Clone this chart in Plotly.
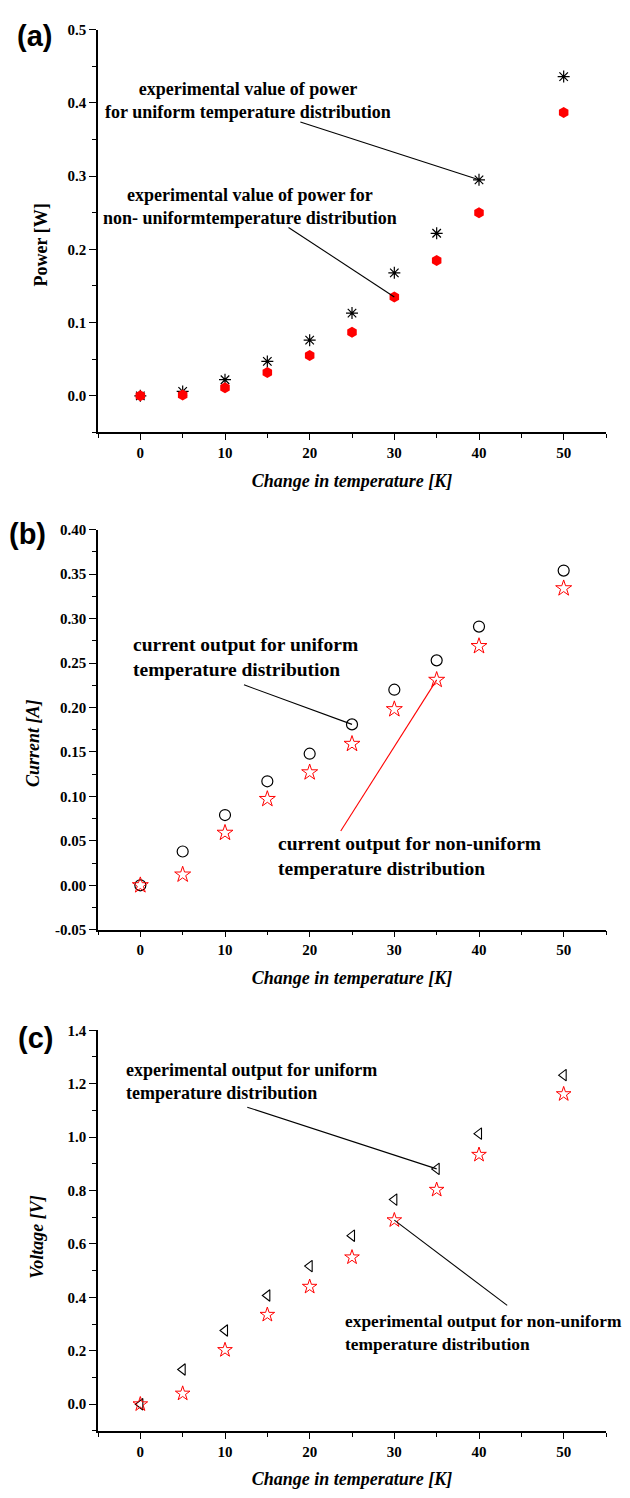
import plotly.graph_objects as go

# Temperature difference across the module [K]
temp = [0, 5, 10, 15, 20, 25, 30, 35, 40, 50]

# (a) Power [W]
power_uniform = [0.0, 0.006, 0.022, 0.047, 0.076, 0.113, 0.168, 0.222, 0.295, 0.436]
power_nonuniform = [0.0, 0.001, 0.011, 0.032, 0.055, 0.087, 0.135, 0.185, 0.250, 0.387]

# (b) Current [A]
current_uniform = [0.0, 0.038, 0.079, 0.117, 0.148, 0.181, 0.220, 0.253, 0.291, 0.354]
current_nonuniform = [0.0, 0.012, 0.059, 0.097, 0.127, 0.159, 0.198, 0.231, 0.269, 0.334]

# (c) Voltage [V]
voltage_uniform = [0.0, 0.130, 0.276, 0.407, 0.517, 0.631, 0.766, 0.881, 1.013, 1.232]
voltage_nonuniform = [0.0, 0.040, 0.203, 0.335, 0.440, 0.550, 0.689, 0.803, 0.934, 1.161]

# Tick labels
x_ticks = [0, 10, 20, 30, 40, 50]
x_ticktext = ["0", "10", "20", "30", "40", "50"]
power_ticks = [0.0, 0.1, 0.2, 0.3, 0.4, 0.5]
power_ticktext = ["0.0", "0.1", "0.2", "0.3", "0.4", "0.5"]
current_ticks = [-0.05, 0.0, 0.05, 0.10, 0.15, 0.20, 0.25, 0.30, 0.35, 0.40]
current_ticktext = ["-0.05", "0.00", "0.05", "0.10", "0.15", "0.20", "0.25", "0.30", "0.35", "0.40"]
voltage_ticks = [0.0, 0.2, 0.4, 0.6, 0.8, 1.0, 1.2, 1.4]
voltage_ticktext = ["0.0", "0.2", "0.4", "0.6", "0.8", "1.0", "1.2", "1.4"]

SERIF = "Liberation Serif, Times New Roman, serif"
SANS = "Liberation Sans, Arial, sans-serif"
W, H = 630, 1498

fig = go.Figure()

# ---- markers -----------------------------------------------------------
def add_points(x, y, xa, ya, symbol, size, color, fill=False, lw=1.0):
    marker = dict(symbol=symbol, size=size, color=color,
                  line=dict(color=color, width=0 if fill else lw))
    fig.add_trace(go.Scatter(x=x, y=y, mode="markers", xaxis=xa, yaxis=ya,
                             marker=marker, showlegend=False, hoverinfo="x+y"))

add_points(temp, power_uniform, "x", "y", "asterisk-open", 10, "black", lw=1.2)
add_points(temp, power_nonuniform, "x", "y", "hexagon", 11, "#ff0000", fill=True)

add_points(temp, current_uniform, "x2", "y2", "circle-open", 11, "black", lw=1.2)
add_points(temp, current_nonuniform, "x2", "y2", "star-open", 12, "#ff0000", lw=1.0)

add_points(temp, voltage_uniform, "x3", "y3", "triangle-left-open", 10, "black", lw=1.1)
add_points(temp, voltage_nonuniform, "x3", "y3", "star-open", 11, "#ff0000", lw=1.0)

# ---- axes --------------------------------------------------------------
x_dom = [98 / W, 606 / W]
panels = [
    # (plot top/bottom in px, range, ticks, ticktext, minor step,
    #  y title, title style, title centre in px)
    ((22, 429), [-0.05, 0.5], power_ticks, power_ticktext, 0.05,
     "Power [W]", "normal", (41, 240)),
    ((527.3, 931.7), [-0.05, 0.40], current_ticks, current_ticktext, 0.025,
     "Current [A]", "italic", (33, 743)),
    ((1033.3, 1438.3), [-0.1, 1.4], voltage_ticks, voltage_ticktext, 0.1,
     "Voltage [V]", "italic", (37, 1242)),
]

tickfont = dict(family=SERIF, size=15, color="black", weight="bold")
for i, (dom_px, yr, yt, ytt, ymin, ytitle, ystyle, tpos) in enumerate(panels, start=1):
    sfx = "" if i == 1 else str(i)
    ydom = [1 - dom_px[1] / H, 1 - dom_px[0] / H]
    fig.update_layout(**{
        f"xaxis{sfx}": dict(
            domain=x_dom, anchor=f"y{sfx}", range=[-5, 55],
            tickvals=x_ticks, ticktext=x_ticktext,
            showline=True, linecolor="black", linewidth=1.5,
            ticks="outside", ticklen=6, tickwidth=1.3, tickcolor="black",
            minor=dict(ticks="outside", dtick=5, tick0=0, ticklen=4,
                       tickwidth=1.3, tickcolor="black", showgrid=False),
            showgrid=False, zeroline=False, tickfont=tickfont,
            title=dict(text="Change in temperature [K]", standoff=14,
                       font=dict(family=SERIF, size=18, color="black",
                                 weight="bold", style="italic")),
        ),
        f"yaxis{sfx}": dict(
            domain=ydom, anchor=f"x{sfx}", range=yr,
            tickvals=yt, ticktext=ytt,
            showline=True, linecolor="black", linewidth=1.5,
            ticks="outside", ticklen=7, tickwidth=1.3, tickcolor="black",
            minor=dict(ticks="outside", dtick=ymin, tick0=0, ticklen=4,
                       tickwidth=1.3, tickcolor="black", showgrid=False),
            showgrid=False, zeroline=False, tickfont=tickfont,
        ),
    })
    # vertical axis title
    fig.add_annotation(text=ytitle, x=tpos[0] / W, y=1 - tpos[1] / H,
                       xref="paper", yref="paper", xanchor="center", yanchor="middle",
                       textangle=-90, showarrow=False,
                       font=dict(family=SERIF, size=18, color="black",
                                 weight="bold", style=ystyle))

# ---- callouts ----------------------------------------------------------
def label(text, x, y, xa, ya, size, xanchor="left", align="left"):
    fig.add_annotation(text=text, x=x, y=y, xref=xa, yref=ya,
                       xanchor=xanchor, yanchor="middle", align=align,
                       showarrow=False,
                       font=dict(family=SERIF, size=size, color="black", weight="bold"))

def leader(x0, y0, x1, y1, xa, ya, color="black"):
    fig.add_shape(type="line", x0=x0, y0=y0, x1=x1, y1=y1, xref=xa, yref=ya,
                  line=dict(color=color, width=1.1))

# (a)
label("experimental value of power<br>for uniform temperature distribution",
      12.75, 0.404, "x", "y", 18, xanchor="center", align="center")
leader(18.9, 0.374, temp[8], power_uniform[8], "x", "y")
label("experimental value of power for<br>non- uniformtemperature distribution",
      12.9, 0.259, "x", "y", 18, xanchor="center", align="center")
leader(17.5, 0.230, temp[6], power_nonuniform[6], "x", "y")

# (b)
label("current output for uniform<br>temperature distribution",
      -1.13, 0.2563, "x2", "y2", 19.5)
leader(12.24, 0.2255, temp[5], current_uniform[5], "x2", "y2")
label("current output for non-uniform<br>temperature distribution",
      16.03, 0.0331, "x2", "y2", 19.5)
leader(23.67, 0.061, temp[7], current_nonuniform[7], "x2", "y2", color="#ff0000")

# (c)
label("experimental output for uniform<br>temperature distribution",
      -1.92, 1.209, "x3", "y3", 18)
leader(12.63, 1.112, temp[7], voltage_uniform[7], "x3", "y3")
label("experimental output for non-uniform<br>temperature distribution",
      23.9, 0.269, "x3", "y3", 17.4)
leader(43.33, 0.370, temp[6], voltage_nonuniform[6], "x3", "y3")

# panel letters
for txt, xpx, ypx in [("(a)", 34, 28), ("(b)", 27, 532), ("(c)", 35, 1041)]:
    fig.add_annotation(text=txt, x=xpx / W, y=1 - ypx / H, xref="paper", yref="paper",
                       xanchor="center", yanchor="middle", showarrow=False,
                       font=dict(family=SANS, size=29, color="black", weight="bold"))

fig.update_layout(
    width=W, height=H,
    margin=dict(l=0, r=0, t=0, b=0),
    paper_bgcolor="white", plot_bgcolor="white",
    showlegend=False,
)

fig.write_html("out.html")
